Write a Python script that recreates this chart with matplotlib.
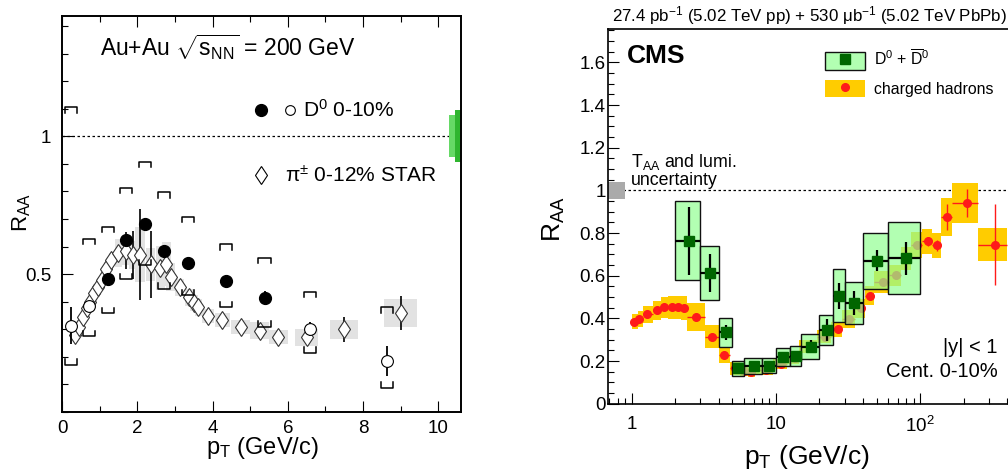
import numpy as np
import matplotlib
matplotlib.use("Agg")
import matplotlib.pyplot as plt
from matplotlib.lines import Line2D
from matplotlib.patches import Patch
from matplotlib.legend_handler import HandlerTuple
from matplotlib.ticker import FixedLocator, MultipleLocator, LogLocator, FuncFormatter, NullFormatter

plt.rcParams['font.family'] = ['Liberation Sans', 'DejaVu Sans']
plt.rcParams['mathtext.fontset'] = 'custom'
plt.rcParams['mathtext.rm'] = 'Liberation Sans'
plt.rcParams['mathtext.it'] = 'Liberation Sans:italic'
plt.rcParams['mathtext.bf'] = 'Liberation Sans:bold'

# ---------------- left panel: STAR Au+Au 200 GeV ----------------
# D0 0-10%, filled
d0f_pt = [1.21, 1.69, 2.2, 2.7, 3.35, 4.36, 5.38]
d0f_r = [0.482, 0.623, 0.682, 0.583, 0.539, 0.474, 0.413]
d0f_stat = [0.01, 0.01, 0.01, 0.01, 0.01, 0.01, 0.025]
d0f_sys_hi = [0.671, 0.814, 0.908, 0.796, 0.708, 0.609, 0.56]
d0f_sys_lo = [0.358, 0.482, 0.533, 0.446, 0.424, 0.379, 0.31]
# D0 0-10%, open
d0o_pt = [0.22, 0.72, 6.59, 8.64]
d0o_r = [0.313, 0.385, 0.30, 0.184]
d0o_stat = [0.068, 0.015, 0.025, 0.054]
d0o_sys_hi = [1.105, 0.629, 0.436, 0.379]
d0o_sys_lo = [0.171, 0.274, 0.214, 0.087]

# pi+- 0-12% STAR
pi_pt = [0.35, 0.45, 0.55, 0.65, 0.75, 0.85, 0.95, 1.05, 1.15, 1.3, 1.49, 1.69,
         1.87, 2.07, 2.35, 2.6, 2.76, 2.88, 3.13, 3.38, 3.5, 3.62, 3.88, 4.26,
         4.75, 5.25, 5.75, 6.5, 7.5, 9.0]
pi_r = [0.279, 0.31, 0.345, 0.376, 0.40, 0.43, 0.455, 0.48, 0.518, 0.552, 0.576, 0.584,
        0.569, 0.571, 0.536, 0.521, 0.536, 0.49, 0.452, 0.416, 0.395, 0.379, 0.349, 0.333,
        0.307, 0.295, 0.273, 0.271, 0.30, 0.359]
pi_stat = [0.01] * 11 + [0.067, 0.088, 0.165, 0.122] + [0.01] * 12 + [0.02, 0.046, 0.06]
pi_sys = [0.025] * 10 + [0.05, 0.05, 0.05, 0.1, 0.06, 0.08, 0.08, 0.05, 0.03, 0.03,
                         0.03, 0.03, 0.025, 0.025, 0.025, 0.03, 0.025, 0.03, 0.035, 0.05]
pi_hw = [0.05] * 10 + [0.1, 0.1, 0.1, 0.125, 0.125, 0.12, 0.12, 0.12, 0.12, 0.12,
                       0.1, 0.1, 0.15, 0.2, 0.25, 0.25, 0.25, 0.3, 0.37, 0.45]

# normalisation uncertainties at R_AA = 1
norm_left = [(10.3, 0.16, 0.077, '#66d966'), (10.46, 0.16, 0.095, '#2fb52f')]

# ---------------- right panel: CMS PbPb 5.02 TeV ----------------
dcms_lo = [2, 3, 4, 5, 6, 8, 10, 12.5, 15, 20, 25, 30, 40, 60]
dcms_hi = [3, 4, 5, 6, 8, 10, 12.5, 15, 20, 25, 30, 40, 60, 100]
dcms_pt = [2.5, 3.5, 4.5, 5.5, 7, 9, 11.25, 13.75, 17.5, 22.5, 27.5, 35, 50, 80]
dcms_r = [0.764, 0.612, 0.335, 0.166, 0.178, 0.177, 0.221, 0.224, 0.268, 0.346,
          0.506, 0.471, 0.67, 0.682]
dcms_stat = [0.16, 0.09, 0.035, 0.02, 0.02, 0.02, 0.02, 0.025, 0.03, 0.05,
             0.06, 0.055, 0.05, 0.077]
dcms_sys = [0.186, 0.127, 0.067, 0.035, 0.037, 0.035, 0.042, 0.045, 0.058, 0.072,
            0.125, 0.098, 0.13, 0.168]

h_edges = [1.0, 1.1, 1.2, 1.4, 1.6, 1.8, 2.0, 2.2, 2.4, 3.2, 4.0, 4.8, 5.6, 6.4, 7.2,
           9.6, 12, 14.4, 19.2, 24, 28.8, 35.2, 41.6, 48, 60.8, 73.6, 86.4, 103.6,
           120.8, 140, 165, 250, 400]
h_pt = [1.04, 1.13, 1.28, 1.49, 1.68, 1.89, 2.08, 2.29, 2.79, 3.58, 4.38, 5.2, 6.0,
        6.75, 8.5, 10.9, 13.6, 17.2, 21.9, 26.8, 32.3, 38.6, 45.0, 55.0, 68.0, 80.0,
        95.0, 112.5, 131.0, 153.0, 210.0, 330.0]
h_r = [0.385, 0.396, 0.42, 0.437, 0.452, 0.451, 0.451, 0.448, 0.408, 0.315, 0.23,
       0.166, 0.155, 0.147, 0.158, 0.186, 0.213, 0.27, 0.315, 0.35, 0.397, 0.448,
       0.507, 0.57, 0.601, 0.68, 0.745, 0.761, 0.742, 0.875, 0.941, 0.745]
h_stat = [0.008] * 11 + [0.008] * 5 + [0.01, 0.01, 0.01, 0.012, 0.012, 0.012, 0.015,
                                       0.015, 0.015, 0.015, 0.02, 0.02, 0.025, 0.06,
                                       0.064, 0.19]
h_sys = [0.035, 0.037, 0.04, 0.045, 0.05, 0.055, 0.055, 0.055, 0.066, 0.056, 0.038,
         0.03, 0.025, 0.022, 0.022, 0.022, 0.025, 0.03, 0.032, 0.035, 0.04, 0.045,
         0.045, 0.05, 0.05, 0.055, 0.06, 0.06, 0.06, 0.09, 0.095, 0.078]

taa_unc = 0.04
taa_xmax = 0.9

# ---------------- figure ----------------
fig = plt.figure(figsize=(10.08, 4.70), dpi=100)
ax1 = fig.add_axes([62.3 / 1008, 58 / 470, 398.4 / 1008, 396 / 470])
ax2 = fig.add_axes([608.3 / 1008, 66.3 / 470, 401.7 / 1008, 374.4 / 470])

# ---- left ----
ax1.set_xlim(0, 10.6)
ax1.set_ylim(0, 1.436)
ax1.axhline(1, color='k', lw=0.9, ls=(0, (2, 2)), zorder=1)

pi_pt_a = np.array(pi_pt)
pi_r_a = np.array(pi_r)
pi_sys_a = np.array(pi_sys)
pi_hw_a = np.array(pi_hw)
ax1.bar(pi_pt_a - pi_hw_a, 2 * pi_sys_a, width=2 * pi_hw_a, bottom=pi_r_a - pi_sys_a,
        align='edge', color='#e2e2e2', lw=0, zorder=1)
ax1.errorbar(pi_pt, pi_r, yerr=pi_stat, fmt='d', ms=9.5, mfc='white', mec='#333333',
             mew=0.8, ecolor='k', elinewidth=1.2, capsize=0, zorder=3)

for x0, w, half, col in norm_left:
    ax1.bar(x0, 2 * half, width=w, bottom=1 - half, align='edge', color=col, lw=0, zorder=2)

bw, leg = 0.16, 0.02
for pts, hi, lo in [(d0f_pt, d0f_sys_hi, d0f_sys_lo), (d0o_pt, d0o_sys_hi, d0o_sys_lo)]:
    for x, h, l in zip(pts, hi, lo):
        ax1.plot([x - bw, x - bw, x + bw, x + bw], [h - leg, h, h, h - leg],
                 color='k', lw=1.1, zorder=4)
        ax1.plot([x - bw, x - bw, x + bw, x + bw], [l + leg, l, l, l + leg],
                 color='k', lw=1.1, zorder=4)

ax1.errorbar(d0f_pt, d0f_r, yerr=d0f_stat, fmt='o', ms=8.5, color='k',
             elinewidth=1.3, capsize=0, zorder=5)
ax1.errorbar(d0o_pt, d0o_r, yerr=d0o_stat, fmt='o', ms=8.5, mfc='white', mec='k',
             mew=0.8, ecolor='k', elinewidth=1.3, capsize=0, zorder=5)

ax1.xaxis.set_major_locator(MultipleLocator(2))
ax1.xaxis.set_minor_locator(MultipleLocator(1))
ax1.yaxis.set_major_locator(FixedLocator([0.5, 1.0]))
ax1.yaxis.set_minor_locator(MultipleLocator(0.1))
ax1.yaxis.set_major_formatter(FuncFormatter(lambda v, p: '%g' % v))
ax1.tick_params(which='both', direction='in', top=True, right=False, labelsize=13.5, width=0.8)
ax1.tick_params(which='major', length=8)
ax1.tick_params(which='minor', length=4.3)
ax1.tick_params(axis='y', pad=8)
ax1.tick_params(axis='x', pad=5.5)
for s in ax1.spines.values():
    s.set_linewidth(1.4)

ax1.text(0.095, 0.922, r'Au+Au $\sqrt{\mathrm{s}_{\mathrm{NN}}}$ = 200 GeV',
         transform=ax1.transAxes, fontsize=16.5, va='center')

h_filled = Line2D([], [], marker='o', ls='', color='k', ms=8.5)
h_open = Line2D([], [], marker='o', ls='', mfc='white', mec='k', mew=0.8, ms=7)
leg1 = ax1.legend([(h_filled, h_open)], [r'D$^0$ 0-10%'],
                  handler_map={tuple: HandlerTuple(ndivide=None, pad=0.69)},
                  handlelength=2.03, handletextpad=0.29, loc='center left',
                  bbox_to_anchor=(0.482, 0.763), frameon=False, fontsize=15,
                  borderpad=0, borderaxespad=0)
ax1.add_artist(leg1)
h_dia = Line2D([], [], marker='d', ls='', mfc='white', mec='k', mew=0.8, ms=9.5)
ax1.legend([h_dia], [r'π$^{\pm}$ 0-12% STAR'], handlelength=0.67, handletextpad=0.78,
           loc='center left', bbox_to_anchor=(0.482, 0.596), frameon=False,
           fontsize=15, borderpad=0, borderaxespad=0)

ax1.set_xlabel(r'p$_{\mathrm{T}}$ (GeV/c)', fontsize=17)
ax1.xaxis.set_label_coords(0.501, -0.058)
ax1.set_ylabel(r'R$_{\mathrm{AA}}$', fontsize=16)
ax1.yaxis.set_label_coords(-0.074, 0.505)

# ---- right ----
ax2.set_xscale('log')
ax2.set_xlim(0.689, 419)
ax2.set_ylim(0, 1.755)
ax2.axhline(1, color='k', lw=0.9, ls=(0, (2, 2)), zorder=1)
ax2.bar(ax2.get_xlim()[0], 2 * taa_unc, width=taa_xmax - ax2.get_xlim()[0],
        bottom=1 - taa_unc, align='edge', color='#aaaaaa', lw=0, zorder=2, clip_on=False)

edges = np.array(h_edges)
h_lo, h_hi = edges[:-1], edges[1:]
h_r_a, h_sys_a, h_pt_a = np.array(h_r), np.array(h_sys), np.array(h_pt)
ax2.bar(h_lo, 2 * h_sys_a, width=h_hi - h_lo, bottom=h_r_a - h_sys_a, align='edge',
        color='#ffcc00', lw=0, zorder=1)
ax2.errorbar(h_pt, h_r, yerr=h_stat, xerr=[h_pt_a - h_lo, h_hi - h_pt_a], fmt='o',
             ms=5.5, color='#ff1a1a', elinewidth=1.0, capsize=0, zorder=2)

d_lo, d_hi = np.array(dcms_lo), np.array(dcms_hi)
d_r, d_sys, d_pt = np.array(dcms_r), np.array(dcms_sys), np.array(dcms_pt)
green_fill = (146 / 255, 1.0, 146 / 255, 0.7)
ax2.bar(d_lo, 2 * d_sys, width=d_hi - d_lo, bottom=d_r - d_sys, align='edge',
        facecolor=green_fill, edgecolor='#111111', lw=1.0, zorder=3)
ax2.errorbar(dcms_pt, dcms_r, yerr=dcms_stat, xerr=[d_pt - d_lo, d_hi - d_pt], fmt='s',
             ms=6.5, mfc='#006600', mec='#006600', ecolor='k', elinewidth=1.6,
             capsize=0, zorder=4)

ax2.xaxis.set_major_locator(LogLocator(base=10, numticks=10))
ax2.xaxis.set_minor_locator(LogLocator(base=10, subs=np.arange(2, 10), numticks=20))
ax2.xaxis.set_major_formatter(FuncFormatter(
    lambda v, p: {1: '1', 10: '10', 100: r'10$^2$'}.get(int(round(v)), '')))
ax2.xaxis.set_minor_formatter(NullFormatter())
ax2.yaxis.set_major_locator(MultipleLocator(0.2))
ax2.yaxis.set_minor_locator(MultipleLocator(0.05))
ax2.yaxis.set_major_formatter(FuncFormatter(lambda v, p: '%g' % round(v, 2)))
ax2.tick_params(which='both', direction='in', top=False, right=False, labelsize=13.5, width=0.8)
ax2.tick_params(which='major', length=8)
ax2.tick_params(which='minor', length=4)
ax2.tick_params(axis='y', pad=2)
ax2.tick_params(axis='x', pad=9)
for s in ax2.spines.values():
    s.set_linewidth(1.2)

ax2.text(0.5, 1.038, r'27.4 pb$^{-1}$ (5.02 TeV pp) + 530 μb$^{-1}$ (5.02 TeV PbPb)',
         transform=ax2.transAxes, ha='center', va='center', fontsize=12.2)
ax2.text(0.047, 0.929, 'CMS', transform=ax2.transAxes, fontsize=19,
         fontweight='bold', va='center')
ax2.text(0.056, 0.646, r'T$_{\mathrm{AA}}$ and lumi.', transform=ax2.transAxes,
         fontsize=12.8, va='center')
ax2.text(0.056, 0.597, 'uncertainty', transform=ax2.transAxes, fontsize=12.8, va='center')
ax2.text(0.968, 0.149, '|y| < 1', transform=ax2.transAxes, fontsize=14.5,
         ha='right', va='center')
ax2.text(0.970, 0.0855, 'Cent. 0-10%', transform=ax2.transAxes, fontsize=14.5,
         ha='right', va='center')

g_box = Patch(facecolor=green_fill, edgecolor='#111111', lw=1.0)
g_mk = Line2D([], [], marker='s', ls='', color='#006600', ms=6.5)
o_box = Patch(facecolor='#ffcc00', edgecolor='#ffcc00', lw=0)
o_mk = Line2D([], [], marker='o', ls='', color='#ff1a1a', ms=5.5)
ax2.legend([(g_box, g_mk), (o_box, o_mk)],
           [r'D$^0$ + $\overline{\mathrm{D}}^0$', 'charged hadrons'],
           handler_map={tuple: HandlerTuple(ndivide=1)}, handlelength=2.53,
           handleheight=1.33, handletextpad=0.57, labelspacing=0.63,
           loc='upper left', bbox_to_anchor=(0.539, 0.947), frameon=False,
           fontsize=11.4, borderpad=0, borderaxespad=0)

ax2.set_xlabel(r'p$_{\mathrm{T}}$ (GeV/c)', fontsize=19)
ax2.xaxis.set_label_coords(0.495, -0.105)
ax2.set_ylabel(r'R$_{\mathrm{AA}}$', fontsize=19)
ax2.yaxis.set_label_coords(-0.104, 0.493)

fig.savefig('out.png', dpi=100)
